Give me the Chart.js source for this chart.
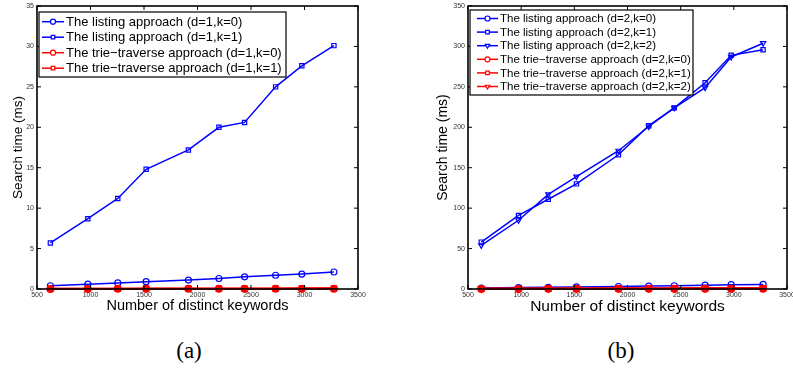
<!DOCTYPE html>
<html>
<head>
<meta charset="utf-8">
<script src="https://cdn.jsdelivr.net/npm/chart.js@4/dist/chart.umd.min.js"></script>
<style>
  body { margin: 0; background: #fff; width: 793px; height: 370px; position: relative; overflow: hidden; }
  canvas { position: absolute; top: 0; }
  #chartA { left: 0; }
  #chartB { left: 410px; }
  .caption { position: absolute; font-family: "Liberation Serif", "Times New Roman", serif; font-size: 23px; color: #000; transform: translate(-50%, -50%); }
</style>
</head>
<body>
<canvas id="chartA" width="410" height="325"></canvas>
<canvas id="chartB" width="383" height="325"></canvas>
<div class="caption" style="left:189px; top:351px;">(a)</div>
<div class="caption" style="left:621px; top:351px;">(b)</div>
<script>
// x values (number of distinct keywords), shared by both plots
var keywords = [625, 975, 1255, 1520, 1915, 2200, 2440, 2730, 2975, 3275];

// (a) d=1
var listingD1K0 = [0.4, 0.6, 0.75, 0.9, 1.1, 1.3, 1.5, 1.7, 1.85, 2.1];
var listingD1K1 = [5.7, 8.7, 11.2, 14.8, 17.2, 20.0, 20.6, 25.0, 27.6, 30.1];
var trieD1K0 = [0.01, 0.01, 0.02, 0.02, 0.02, 0.03, 0.03, 0.03, 0.04, 0.04];
var trieD1K1 = [0.02, 0.03, 0.03, 0.04, 0.05, 0.05, 0.06, 0.06, 0.07, 0.08];

// (b) d=2
var listingD2K0 = [1.2, 1.8, 2.1, 2.6, 3.1, 3.6, 4.0, 4.7, 5.4, 5.6];
var listingD2K1 = [58, 91, 111, 130, 166, 202, 224, 255, 289, 296];
var listingD2K2 = [54, 85, 117, 139, 171, 201, 224, 249, 287, 304];
var trieD2K0 = [0.1, 0.1, 0.2, 0.2, 0.2, 0.3, 0.3, 0.3, 0.4, 0.4];
var trieD2K1 = [0.2, 0.3, 0.3, 0.4, 0.5, 0.5, 0.6, 0.7, 0.7, 0.8];
var trieD2K2 = [0.3, 0.4, 0.5, 0.6, 0.7, 0.8, 0.9, 1.0, 1.1, 1.2];

// axis ticks
var xTicks = [500, 1000, 1500, 2000, 2500, 3000, 3500];
var yTicksA = [0, 5, 10, 15, 20, 25, 30, 35];
var yTicksB = [0, 50, 100, 150, 200, 250, 300, 350];

var SANS = '"Liberation Sans", Arial, Helvetica, sans-serif';
var BLUE = '#0000ff';
var RED = '#ff0000';

function toPoints(ys) {
	return ys.map(function (y, i) { return { x: keywords[i], y: y }; });
}

function series(label, ys, color, style, order) {
	var red = color === RED;
	return {
		label: label,
		data: toPoints(ys),
		borderColor: color,
		backgroundColor: 'rgba(0,0,0,0)',
		borderWidth: red ? 2.2 : 1.5,
		pointStyle: style,
		pointRotation: style === 'triangle' ? 180 : 0,
		pointRadius: 3,
		pointBorderWidth: red ? 2 : 1.2,
		pointBorderColor: color,
		pointBackgroundColor: red ? color : 'rgba(0,0,0,0)',
		tension: 0,
		clip: false,
		order: order
	};
}

// MATLAB style box with inward ticks on all four sides
var boxPlugin = {
	id: 'matlabBox',
	afterDatasetsDraw: function (chart) {
		var ctx = chart.ctx, a = chart.chartArea;
		var xs = chart.scales.x, ys = chart.scales.y;
		ctx.save();
		ctx.strokeStyle = '#000';
		ctx.lineWidth = 1;
		ctx.beginPath();
		xs.ticks.forEach(function (t) {
			var px = xs.getPixelForValue(t.value);
			ctx.moveTo(px, a.bottom); ctx.lineTo(px, a.bottom - 4);
			ctx.moveTo(px, a.top); ctx.lineTo(px, a.top + 4);
		});
		ys.ticks.forEach(function (t) {
			var py = ys.getPixelForValue(t.value);
			ctx.moveTo(a.left, py); ctx.lineTo(a.left + 4, py);
			ctx.moveTo(a.right, py); ctx.lineTo(a.right - 4, py);
		});
		ctx.stroke();
		ctx.lineWidth = 1.6;
		ctx.strokeRect(a.left, a.top, a.right - a.left, a.bottom - a.top);
		ctx.restore();
	}
};

// legend box drawn inside the plot, like the MATLAB one
var legendPlugin = {
	id: 'boxLegend',
	afterDraw: function (chart, args, opts) {
		var ctx = chart.ctx;
		ctx.save();
		ctx.fillStyle = '#fff';
		ctx.fillRect(opts.x, opts.y, opts.w, opts.h);
		ctx.strokeStyle = '#000';
		ctx.lineWidth = 1.2;
		ctx.strokeRect(opts.x, opts.y, opts.w, opts.h);
		ctx.font = opts.fontSize + 'px ' + SANS;
		ctx.textBaseline = 'middle';
		chart.data.datasets.forEach(function (ds, i) {
			var y = opts.rowY + i * opts.rowGap;
			ctx.strokeStyle = ds.borderColor;
			ctx.lineWidth = 1.5;
			ctx.beginPath();
			ctx.moveTo(opts.lineX1, y);
			ctx.lineTo(opts.lineX2, y);
			ctx.stroke();
			ctx.lineWidth = 1.2;
			ctx.fillStyle = '#fff';
			Chart.helpers.drawPoint(ctx, {
				pointStyle: ds.pointStyle,
				rotation: ds.pointRotation,
				radius: 2.5,
				borderWidth: 1.2
			}, (opts.lineX1 + opts.lineX2) / 2, y);
			ctx.fillStyle = '#000';
			ctx.fillText(ds.label, opts.textX, y + 0.5);
		});
		ctx.restore();
	}
};

function plainTick(v) { return String(v); }

function makeChart(id, datasets, yMax, geo) {
	return new Chart(document.getElementById(id), {
		type: 'line',
		data: { datasets: datasets },
		plugins: [boxPlugin, legendPlugin],
		options: {
			responsive: false,
			animation: false,
			devicePixelRatio: 1,
			layout: { padding: { top: 6, right: geo.padRight, left: 0, bottom: 0 } },
			plugins: {
				legend: { display: false },
				tooltip: { enabled: false },
				boxLegend: geo.legend
			},
			scales: {
				x: {
					type: 'linear',
					min: 500,
					max: 3500,
					afterBuildTicks: function (s) { s.ticks = xTicks.map(function (v) { return { value: v }; }); },
					ticks: { padding: 2, color: '#333', font: { family: SANS, size: 7 }, maxRotation: 0, callback: plainTick },
					grid: { display: false, drawTicks: false },
					border: { display: false },
					title: { display: true, text: 'Number of distinct keywords', color: '#000',
						font: { family: SANS, size: geo.xTitleSize }, padding: { top: 0, bottom: geo.xTitlePad } },
					afterFit: function (s) { s.height = 36; s.paddingLeft = 0; s.paddingRight = 0; }
				},
				y: {
					min: 0,
					max: yMax,
					afterBuildTicks: function (s) { s.ticks = geo.yTicks.map(function (v) { return { value: v }; }); },
					ticks: { padding: 3, color: '#333', font: { family: SANS, size: 7 }, callback: plainTick },
					grid: { display: false, drawTicks: false },
					border: { display: false },
					title: { display: true, text: 'Search time (ms)', color: '#000',
						font: { family: SANS, size: geo.yTitleSize }, padding: { top: geo.yTitlePad, bottom: 0 } },
					afterFit: function (s) { s.width = geo.yWidth; s.paddingTop = 0; s.paddingBottom = 0; }
				}
			}
		}
	});
}

makeChart('chartA', [
	series('The listing approach (d=1,k=0)', listingD1K0, BLUE, 'circle', 4),
	series('The listing approach (d=1,k=1)', listingD1K1, BLUE, 'rect', 3),
	series('The trie\u2212traverse approach (d=1,k=0)', trieD1K0, RED, 'circle', 2),
	series('The trie\u2212traverse approach (d=1,k=1)', trieD1K1, RED, 'rect', 1)
], 35, {
	yTicks: yTicksA, yWidth: 37, padRight: 52,
	xTitleSize: 14.5, xTitlePad: 10, yTitleSize: 13.5, yTitlePad: 10,
	legend: { x: 39, y: 12, w: 247, h: 65, rowY: 21.7, rowGap: 15.5, lineX1: 42, lineX2: 64, textX: 66, fontSize: 13 }
});

makeChart('chartB', [
	series('The listing approach (d=2,k=0)', listingD2K0, BLUE, 'circle', 6),
	series('The listing approach (d=2,k=1)', listingD2K1, BLUE, 'rect', 5),
	series('The listing approach (d=2,k=2)', listingD2K2, BLUE, 'triangle', 4),
	series('The trie\u2212traverse approach (d=2,k=0)', trieD2K0, RED, 'circle', 3),
	series('The trie\u2212traverse approach (d=2,k=1)', trieD2K1, RED, 'rect', 2),
	series('The trie\u2212traverse approach (d=2,k=2)', trieD2K2, RED, 'triangle', 1)
], 350, {
	yTicks: yTicksB, yWidth: 58, padRight: 3,
	xTitleSize: 15.5, xTitlePad: 9, yTitleSize: 14, yTitlePad: 24.5,
	legend: { x: 60, y: 10, w: 223, h: 85, rowY: 18.5, rowGap: 13.6, lineX1: 67, lineX2: 88, textX: 90, fontSize: 11.5 }
});
</script>
</body>
</html>
